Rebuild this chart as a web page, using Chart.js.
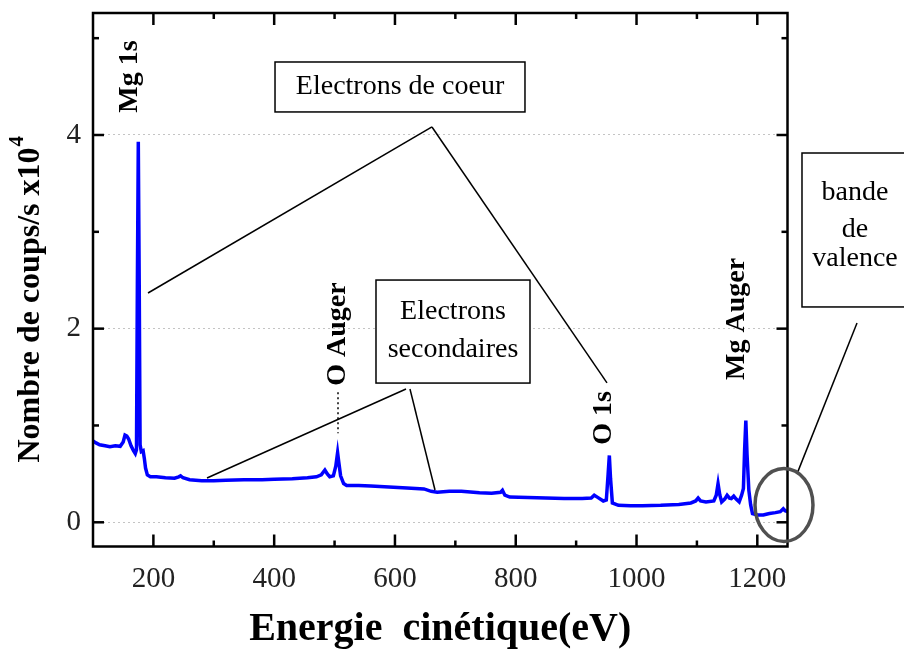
<!DOCTYPE html>
<html>
<head>
<meta charset="utf-8">
<script src="https://cdn.jsdelivr.net/npm/chart.js@4"></script>
<style>
  html, body { margin: 0; padding: 0; background: #fff; }
</style>
</head>
<body>
<canvas id="xps" width="904" height="650"></canvas>
<script>
// kinetic energy (eV) and counts (x10^4 counts/s)
const energy = [
  100, 105, 111, 120, 128, 137, 145, 150, 153, 156, 159, 163, 167, 170, 172, 173.5, 175, 176.5, 178, 180,
  183, 185, 187, 190, 195, 205, 220, 235, 242, 245, 249, 260, 280, 300, 320, 350, 380, 400, 430, 455,
  470, 478, 484, 488, 492, 498, 502, 505, 507, 510, 515, 520, 540, 560, 590, 620, 648, 660, 670, 690,
  710, 740, 760, 775, 778, 782, 790, 820, 850, 880, 910, 925, 930, 935, 945, 950, 953, 955, 957, 960,
  970, 990, 1010, 1040, 1070, 1090, 1098, 1102, 1106, 1115, 1128, 1132, 1135, 1138, 1141, 1146, 1150, 1154, 1157, 1161,
  1165, 1170, 1174, 1177, 1179, 1181, 1183, 1186, 1189, 1192, 1200, 1210, 1220, 1230, 1238, 1243, 1246, 1250
];
const counts = [
  0.84, 0.82, 0.80, 0.79, 0.78, 0.79, 0.785, 0.83, 0.90, 0.89, 0.86, 0.79, 0.74, 0.71, 0.75, 2.5, 3.93, 2.5, 0.80, 0.73,
  0.74, 0.66, 0.56, 0.49, 0.47, 0.47, 0.46, 0.455, 0.47, 0.48, 0.46, 0.44, 0.43, 0.43, 0.435, 0.44, 0.44, 0.445, 0.45, 0.46,
  0.47, 0.49, 0.54, 0.50, 0.47, 0.48, 0.58, 0.72, 0.62, 0.48, 0.40, 0.38, 0.38, 0.375, 0.365, 0.355, 0.345, 0.32, 0.31, 0.32,
  0.32, 0.305, 0.30, 0.31, 0.33, 0.28, 0.26, 0.255, 0.25, 0.245, 0.245, 0.25, 0.28, 0.26, 0.22, 0.23, 0.50, 0.69, 0.45, 0.20,
  0.175, 0.17, 0.17, 0.175, 0.185, 0.20, 0.22, 0.25, 0.22, 0.21, 0.22, 0.28, 0.40, 0.28, 0.21, 0.24, 0.28, 0.25, 0.245, 0.27,
  0.24, 0.21, 0.28, 0.35, 0.75, 1.05, 0.70, 0.33, 0.18, 0.09, 0.075, 0.075, 0.09, 0.10, 0.11, 0.14, 0.12, 0.11
];
const xTicks = [200, 400, 600, 800, 1000, 1200];
const xMinorTicks = [300, 500, 700, 900, 1100];
const yTicks = [0, 2, 4];
const yMinorTicks = [1, 3, 5];

const serif = "'Liberation Serif', 'Times New Roman', serif";

// peak labels, anchored at the bottom of the rotated text (energy, counts)
const peakLabels = [
  { text: 'Mg 1s', e: 161.3, v: 4.23 },
  { text: 'O Auger', e: 505.7, v: 1.41 },
  { text: 'O 1s', e: 946.2, v: 0.80 },
  { text: 'Mg Auger', e: 1166.4, v: 1.47 }
];

// boxes with text and their pointer lines, in data units
const boxes = [
  { e0: 401.4, e1: 815.3, v0: 4.754, v1: 4.238, lines: [['Electrons de coeur', 608.4, 4.496]] },
  { e0: 568.6, e1: 823.6, v0: 2.502, v1: 1.438, lines: [['Electrons', 696.1, 2.172], ['secondaires', 696.1, 1.78]] },
  { e0: 1274, e1: 1490, v0: 3.814, v1: 2.224, lines: [['bande', 1361.8, 3.40], ['de', 1361.8, 3.02], ['valence', 1361.8, 2.72]] }
];
const pointers = [
  [661.3, 4.083, 191.1, 2.368],
  [661.3, 4.083, 951.1, 1.440],
  [618.3, 1.377, 288.8, 0.457],
  [624.9, 1.377, 666.3, 0.334],
  [1365.1, 2.059, 1265.7, 0.50]
];

const decorations = {
  id: 'decorations',
  afterDraw(chart) {
    const ctx = chart.ctx;
    const xs = chart.scales.x, ys = chart.scales.y;
    const X = v => xs.getPixelForValue(v);
    const Y = v => ys.getPixelForValue(v);
    const a = chart.chartArea;

    ctx.save();
    // inward ticks on all four sides
    ctx.strokeStyle = '#000';
    ctx.lineWidth = 2.5;
    const tick = (x0, y0, x1, y1) => { ctx.beginPath(); ctx.moveTo(x0, y0); ctx.lineTo(x1, y1); ctx.stroke(); };
    xTicks.forEach(v => { tick(X(v), a.bottom, X(v), a.bottom - 12); tick(X(v), a.top, X(v), a.top + 12); });
    xMinorTicks.forEach(v => { tick(X(v), a.bottom, X(v), a.bottom - 6); tick(X(v), a.top, X(v), a.top + 6); });
    yTicks.forEach(v => { tick(a.left, Y(v), a.left + 11, Y(v)); tick(a.right, Y(v), a.right - 11, Y(v)); });
    yMinorTicks.forEach(v => { tick(a.left, Y(v), a.left + 6, Y(v)); tick(a.right, Y(v), a.right - 6, Y(v)); });
    // frame
    ctx.strokeRect(a.left, a.top, a.right - a.left, a.bottom - a.top);

    // y axis title (with a real superscript), centred a little below the plot middle
    ctx.fillStyle = '#000';
    ctx.save();
    ctx.translate(31, (a.top + a.bottom) / 2 + 20);
    ctx.rotate(-Math.PI / 2);
    ctx.textBaseline = 'middle';
    const main = 'Nombre de coups/s x10';
    ctx.font = 'bold 32px ' + serif;
    const w1 = ctx.measureText(main).width;
    ctx.font = 'bold 21px ' + serif;
    const w2 = ctx.measureText('4').width;
    const start = -(w1 + w2) / 2;
    ctx.font = 'bold 32px ' + serif;
    ctx.textAlign = 'left';
    ctx.fillText(main, start, 0);
    ctx.font = 'bold 21px ' + serif;
    ctx.fillText('4', start + w1 + 1, -13);
    ctx.restore();

    // pointer lines
    ctx.lineWidth = 1.5;
    pointers.forEach(p => tick(X(p[0]), Y(p[1]), X(p[2]), Y(p[3])));

    // dotted marker under O Auger
    ctx.setLineDash([2, 3]);
    tick(X(505.7), Y(1.342), X(505.7), Y(0.919));
    ctx.setLineDash([]);

    // boxes
    ctx.font = '28px ' + serif;
    ctx.textAlign = 'center';
    ctx.textBaseline = 'middle';
    boxes.forEach(b => {
      const x0 = X(b.e0), x1 = X(b.e1), y0 = Y(b.v0), y1 = Y(b.v1);
      ctx.fillStyle = '#fff';
      ctx.fillRect(x0, y0, x1 - x0, y1 - y0);
      ctx.strokeRect(x0, y0, x1 - x0, y1 - y0);
      ctx.fillStyle = '#000';
      b.lines.forEach(l => ctx.fillText(l[0], X(l[1]), Y(l[2])));
    });

    // rotated peak labels
    ctx.font = 'bold 28px ' + serif;
    ctx.textAlign = 'left';
    peakLabels.forEach(p => {
      ctx.save();
      ctx.translate(X(p.e), Y(p.v));
      ctx.rotate(-Math.PI / 2);
      ctx.fillText(p.text, 0, 0);
      ctx.restore();
    });

    // valence band circle
    ctx.strokeStyle = '#505050';
    ctx.lineWidth = 3.5;
    ctx.beginPath();
    ctx.ellipse(X(1244.2), Y(0.179), X(1244.2 + 48) - X(1244.2), Y(0) - Y(0.377), 0, 0, Math.PI * 2);
    ctx.stroke();
    ctx.restore();
  }
};

new Chart(document.getElementById('xps'), {
  type: 'line',
  data: {
    labels: energy,
    datasets: [{
      data: energy.map((e, i) => ({ x: e, y: counts[i] })),
      borderColor: '#0000ff',
      borderWidth: 3.5,
      pointRadius: 0,
      tension: 0,
      fill: false
    }]
  },
  options: {
    responsive: false,
    animation: false,
    layout: { padding: { top: 13, right: 116.5, bottom: 0, left: 0 } },
    plugins: { legend: { display: false }, tooltip: { enabled: false } },
    scales: {
      x: {
        type: 'linear',
        min: 100,
        max: 1250,
        afterBuildTicks: s => { s.ticks = xTicks.map(v => ({ value: v })); },
        afterFit: s => { s.height = 103.5; s.paddingLeft = 0; s.paddingRight = 0; },
        ticks: { font: { family: serif, size: 29 }, color: '#222', padding: 15, callback: v => String(v) },
        grid: { display: false, drawTicks: false, tickLength: 0 },
        border: { display: false },
        title: {
          display: true,
          text: 'Energie  cinétique(eV)',
          color: '#000',
          font: { family: serif, size: 40, weight: 'bold', lineHeight: 1 },
          padding: { top: 0, bottom: 0 }
        }
      },
      y: {
        min: -0.25,
        max: 5.26,
        afterBuildTicks: s => { s.ticks = yTicks.map(v => ({ value: v })); },
        afterFit: s => { s.width = 93; s.paddingTop = 0; s.paddingBottom = 0; },
        ticks: { font: { family: serif, size: 29 }, color: '#222', padding: 12, callback: v => String(v) },
        grid: { color: '#c4c4c4', lineWidth: 1, drawTicks: false, tickLength: 0 },
        border: { display: false, dash: [2, 3] },
        title: { display: false }
      }
    }
  },
  plugins: [decorations]
});
</script>
</body>
</html>
